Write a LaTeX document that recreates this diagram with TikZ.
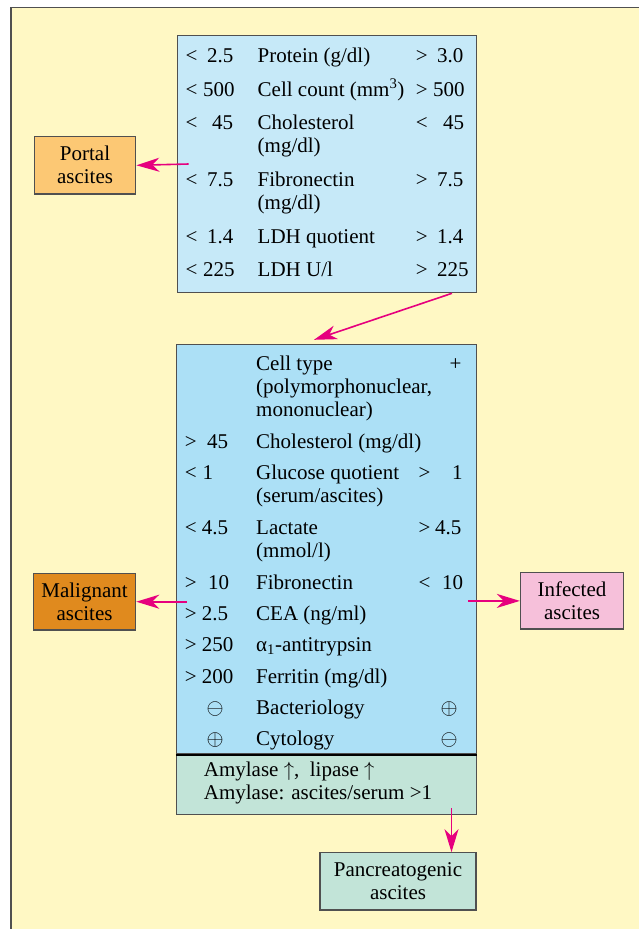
\documentclass[tikz,border=0pt]{standalone}
\usepackage{fontspec}
\setmainfont{Liberation Serif}
\usetikzlibrary{arrows.meta}
\definecolor{bgyellow}{RGB}{255,248,196}
\definecolor{bordergray}{RGB}{80,80,80}
\definecolor{topblue}{RGB}{198,233,248}
\definecolor{midblue}{RGB}{172,224,246}
\definecolor{softgreen}{RGB}{194,228,216}
\definecolor{portalorange}{RGB}{252,200,116}
\definecolor{maligorange}{RGB}{224,138,30}
\definecolor{infpink}{RGB}{246,192,218}
\definecolor{arrmagenta}{RGB}{230,0,126}
\newcommand\uarr{\resizebox*{!}{18.3pt}{$\uparrow$}}
\newcommand\cplus{\resizebox{17pt}{!}{$\oplus$}}
\newcommand\cminus{\resizebox{17pt}{!}{$\ominus$}}
\tikzset{
  box/.style={draw=bordergray, line width=1.2pt, inner sep=0pt, align=center,
    font=\fontsize{21}{23}\selectfont},
  txt/.style={anchor=base west, inner sep=0pt, align=left,
    font=\fontsize{21}{23}\selectfont},
  sym/.style={anchor=base, inner sep=0pt},
  arr/.style={draw=arrmagenta, line width=1.6pt,
    -{Stealth[length=23pt,width=14pt,inset=7pt,fill=arrmagenta]}}
}
\begin{document}
\begin{tikzpicture}[x=1pt,y=-1pt]
\useasboundingbox (0,0) rectangle (639,929);
% background
\fill[bgyellow] (11,7.5) rectangle (639,929);
\draw[bordergray, line width=1.2pt] (11,929) -- (11,7.5) -- (639,7.5);

% boxes
\node[box, fill=topblue, minimum width=299.5pt, minimum height=257.4pt] (top) at (327,164) {};
\node[box, fill=portalorange, minimum width=101.5pt, minimum height=57.3pt] (portal) at (85,165.3) {Portal\\ascites};
\node[box, fill=midblue, minimum width=300.4pt, minimum height=409.3pt] (midA) at (326.6,549.35) {};
\node[box, fill=softgreen, minimum width=300.4pt, minimum height=60.3pt] (midB) at (326.6,784.15) {};
\draw[black, line width=2pt] (midA.south west) -- (midA.south east);
\node[box, fill=maligorange, minimum width=102.3pt, minimum height=56.7pt] (malig) at (84.5,601.7) {Malignant\\ascites};
\node[box, fill=infpink, minimum width=103.1pt, minimum height=56.3pt] (infect) at (572,600.9) {Infected\\ascites};
\node[box, fill=softgreen, minimum width=156pt, minimum height=57.3pt] (panc) at (398,881.4) {Pancreatogenic\\ascites};

% top box rows (multi-line nodes are placed by their last baseline)
\node[txt] (t1l) at (185.4,62) {<\hspace{9.8pt}2.5};
\node[txt] (t1m) at (257.5,62) {Protein (g/dl)};
\node[txt] (t1r) at (415.6,62) {>\hspace{9.6pt}3.0};

\node[txt] (t2l) at (185.4,96) {<\hspace{5.8pt}500};
\node[txt] (t2m) at (257.5,96) {Cell count (mm\textsuperscript{3})};
\node[txt] (t2r) at (415.6,96) {>\hspace{5.4pt}500};

\node[txt] (t3l) at (185.4,129) {<\hspace{14.8pt}45};
\node[txt] (t3m) at (257.5,152) {Cholesterol\\(mg/dl)};
\node[txt] (t3r) at (415.6,129) {<\hspace{15.6pt}45};

\node[txt] (t4l) at (185.4,186) {<\hspace{9.8pt}7.5};
\node[txt] (t4m) at (257.5,209) {Fibronectin\\(mg/dl)};
\node[txt] (t4r) at (415.6,186) {>\hspace{9.6pt}7.5};

\node[txt] (t5l) at (185.4,243) {<\hspace{9.8pt}1.4};
\node[txt] (t5m) at (257.5,243) {LDH quotient};
\node[txt] (t5r) at (415.6,243) {>\hspace{9.6pt}1.4};

\node[txt] (t6l) at (185.4,276) {<\hspace{5.8pt}225};
\node[txt] (t6m) at (257.5,276) {LDH U/l};
\node[txt] (t6r) at (415.6,276) {>\hspace{9.6pt}225};

% middle box rows
\node[txt] (m1m) at (256,416) {Cell type\\(polymorphonuclear,\\mononuclear)};
\node[txt] (m1r) at (449.5,370) {+};

\node[txt] (m2l) at (184.6,448.3) {>\hspace{10.6pt}45};
\node[txt] (m2m) at (256,448.3) {Cholesterol (mg/dl)};

\node[txt] (m3l) at (184.6,479.3) {<\hspace{6pt}1};
\node[txt] (m3m) at (256,502.3) {Glucose quotient\\(serum/ascites)};
\node[txt] (m3r) at (418.5,479.3) {>\hspace{21.7pt}1};

\node[txt] (m4l) at (184.6,534) {<\hspace{5.3pt}4.5};
\node[txt] (m4m) at (256,557) {Lactate\\(mmol/l)};
\node[txt] (m4r) at (418.5,534) {>\hspace{4.7pt}4.5};

\node[txt] (m5l) at (184.6,589.3) {>\hspace{11.4pt}10};
\node[txt] (m5m) at (256,589.3) {Fibronectin};
\node[txt] (m5r) at (418.5,589.3) {<\hspace{11.7pt}10};

\node[txt] (m6l) at (184.6,620) {>\hspace{5.3pt}2.5};
\node[txt] (m6m) at (256,620) {CEA (ng/ml)};

\node[txt] (m7l) at (184.6,651.7) {>\hspace{5.3pt}250};
\node[txt] (m7m) at (256,651.7) {α\textsubscript{1}-antitrypsin};

\node[txt] (m8l) at (184.6,683.3) {>\hspace{5.3pt}200};
\node[txt] (m8m) at (256,683.3) {Ferritin (mg/dl)};

\node[sym] (m9l) at (215,714) {\cminus};
\node[txt] (m9m) at (256,714) {Bacteriology};
\node[sym] (m9r) at (449,714) {\cplus};

\node[sym] (m10l) at (215,745) {\cplus};
\node[txt] (m10m) at (256,745) {Cytology};
\node[sym] (m10r) at (449,745) {\cminus};

% lower green part
\node[txt] (b1) at (203.7,799) {Amylase \uarr,\ \ lipase \uarr\\Amylase: ascites/serum >1};

% arrows
\draw[arr] ([xshift=12pt]top.west) -- (portal.east);
\draw[arr] ([xshift=125pt]top.south) -- ([xshift=-12.6pt,yshift=4.3pt]midA.north);
\draw[arr] ([xshift=11.4pt]malig.east -| midA.west) -- (malig.east);
\draw[arr] ([xshift=-9pt]infect.west -| midA.east) -- (infect.west);
\coordinate (pa) at (451.5,808);
\draw[arr] (pa) -- (pa |- panc.north);
\end{tikzpicture}
\end{document}
